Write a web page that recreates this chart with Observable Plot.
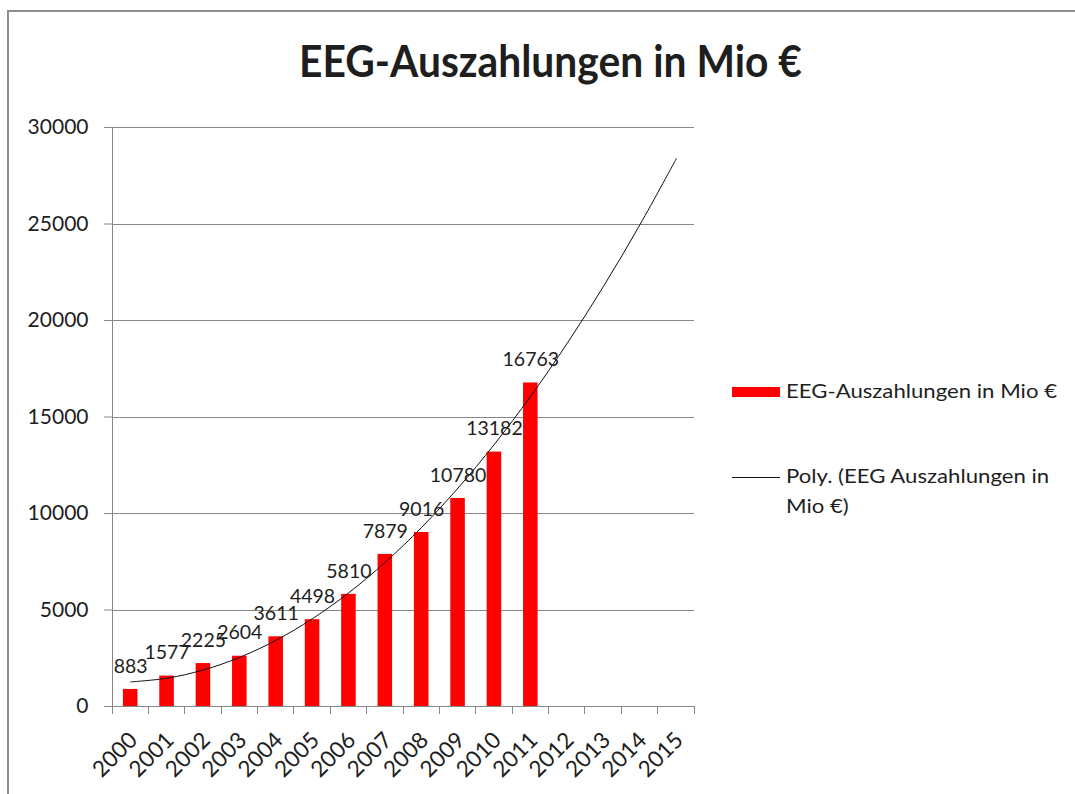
<!DOCTYPE html>
<html>
<head>
<meta charset="utf-8">
<script src="https://cdn.jsdelivr.net/npm/d3@7"></script>
<script src="https://cdn.jsdelivr.net/npm/@observablehq/plot@0.6"></script>
<style>
  html, body { margin: 0; padding: 0; background: #fff; }
  #page { position: relative; width: 1075px; height: 794px; overflow: hidden; background: #fff; font-family: Lato, "Open Sans", sans-serif; color: #1e1e1e; }
  #border { position: absolute; left: 7px; top: 10px; width: 1200px; height: 900px; border-top: 2px solid #8e8e8e; border-left: 2px solid #8e8e8e; }
  #chart { position: absolute; left: 0; top: 0; }
  .txt { position: absolute; white-space: nowrap; line-height: 1; transform-origin: 0 0; }
  #title { font-weight: bold; font-size: 43px; top: 38.6px; }
  #leg1 { font-size: 19px; left: 786px; top: 381px; }
  #leg2 { font-size: 19px; left: 786px; top: 460.6px; line-height: 30px; }
  .sw { position: absolute; }
</style>
</head>
<body>
<div id="page">
  <div id="border"></div>
  <div id="chart"></div>
  <div id="title" class="txt"></div>
  <div class="sw" style="left:732px;top:387px;width:48px;height:10px;background:#ff0000;"></div>
  <div id="leg1" class="txt"></div>
  <div class="sw" style="left:732px;top:476.5px;width:48px;height:1px;background:#111;"></div>
  <div id="leg2" class="txt"></div>
</div>
<script>
// ---- data ----
const titleText = "EEG-Auszahlungen in Mio €";
const barLegend = "EEG-Auszahlungen in Mio €";
const lineLegend = ["Poly. (EEG Auszahlungen in", "Mio €)"];
const years = ["2000","2001","2002","2003","2004","2005","2006","2007","2008","2009","2010","2011","2012","2013","2014","2015"];
const barYears = ["2000","2001","2002","2003","2004","2005","2006","2007","2008","2009","2010","2011"];
const payouts = [883, 1577, 2225, 2604, 3611, 4498, 5810, 7879, 9016, 10780, 13182, 16763];
// polynomial trend line values at each year
const trend = [1273, 1467, 1893, 2550, 3436, 4553, 5899, 7476, 9284, 11321, 13589, 16087, 18815, 21774, 24963, 28382];
const yTicks = [0, 5000, 10000, 15000, 20000, 25000, 30000];

const bars = barYears.map((y, i) => ({year: y, value: payouts[i]}));
const trendRows = years.map((y, i) => ({year: y, value: trend[i]}));

const axisGray = "#868686";

const frameLines = (index, scales, values, dims) => {
  const x0 = dims.marginLeft, x1 = dims.width - dims.marginRight;
  const y0 = dims.height - dims.marginBottom, yTop = dims.marginTop;
  const g = d3.create("svg:g").attr("stroke", axisGray).attr("stroke-width", 1).attr("shape-rendering", "crispEdges");
  g.append("line").attr("x1", x0).attr("x2", x0).attr("y1", yTop).attr("y2", y0 + 8);
  g.append("line").attr("x1", x0).attr("x2", x1).attr("y1", y0).attr("y2", y0);
  const step = (x1 - x0) / years.length;
  for (let i = 1; i <= years.length; i++) {
    const xx = x0 + i * step;
    g.append("line").attr("x1", xx).attr("x2", xx).attr("y1", y0).attr("y2", y0 + 8);
  }
  return g.node();
};

const chart = Plot.plot({
  width: 1075,
  height: 794,
  marginLeft: 112,
  marginRight: 381,
  marginTop: 127,
  marginBottom: 88,
  style: {fontFamily: "Lato, 'Open Sans', sans-serif", background: "transparent", color: "#1e1e1e"},
  x: {type: "band", domain: years, paddingInner: 0.6, paddingOuter: 0.3, align: 0.5, round: false, label: null},
  y: {domain: [0, 30000], label: null},
  marks: [
    Plot.gridY(yTicks, {stroke: axisGray, strokeOpacity: 1, strokeWidth: 1, shapeRendering: "crispEdges"}),
    Plot.barY(bars, {x: "year", y: "value", fill: "#ff0000"}),
    Plot.line(trendRows, {x: "year", y: "value", stroke: "#111", strokeWidth: 1, curve: "catmull-rom"}),
    Plot.text(bars, {x: "year", y: "value", text: d => String(d.value), dy: -23, fontSize: 19.5, fill: "#1e1e1e"}),
    Plot.axisY(yTicks, {tickSize: 8, tickPadding: 16, fontSize: 21, stroke: axisGray, color: "#1e1e1e", label: null, tickFormat: d => String(d)}),
    Plot.axisX({tickRotate: -45, tickSize: 0, tickPadding: 30, dx: 3, fontSize: 22.5, color: "#1e1e1e", label: null}),
    frameLines
  ]
});
document.getElementById("chart").appendChild(chart);

// ---- text blocks ----
const title = document.getElementById("title");
title.textContent = titleText;
const leg1 = document.getElementById("leg1");
leg1.textContent = barLegend;
const leg2 = document.getElementById("leg2");
leg2.innerHTML = lineLegend.map(s => s.replace(/&/g, "&amp;").replace(/</g, "&lt;")).join("<br>");

function fitWidth(el, target, left) {
  const w = el.getBoundingClientRect().width;
  const s = target / w;
  el.style.transform = `scaleX(${s})`;
  if (left !== undefined) el.style.left = left + "px";
  return s;
}
fitWidth(title, 503, 299);
const s1 = fitWidth(leg1, 271);
leg2.style.transform = `scaleX(${s1})`;
</script>
</body>
</html>
